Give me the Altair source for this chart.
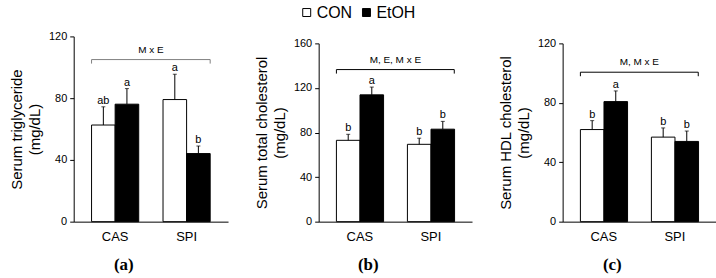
import altair as alt
import pandas as pd

# ---------------- data ----------------
diets = ["CAS", "CAS", "SPI", "SPI"]
groups = ["CON", "EtOH", "CON", "EtOH"]

tg_mean = [62.6, 76.1, 79.1, 44.1]
tg_err = [11.8, 10.1, 16.4, 4.9]
tc_mean = [73.0, 113.8, 69.4, 83.0]
tc_err = [5.4, 7.0, 5.5, 7.0]
hdl_mean = [62.0, 80.8, 56.9, 54.0]
hdl_err = [6.0, 7.2, 6.2, 7.0]

tg_letters = ["ab", "a", "a", "b"]
tc_letters = ["b", "a", "b", "b"]
hdl_letters = ["b", "a", "b", "b"]

y_titles = [["Serum triglyceride", "(mg/dL)"],
            ["Serum total cholesterol", "(mg/dL)"],
            ["Serum HDL cholesterol", "(mg/dL)"]]
y_max = [120, 160, 120]
y_ticks = [[0, 40, 80, 120], [0, 40, 80, 120, 160], [0, 40, 80, 120]]
bracket_y = [105.0, 136.5, 100.6]
bracket_drop = [2.6, 3.6, 2.7]
bracket_text = ["M x E", "M, E, M x E", "M, M x E"]
panel_labels = ["(a)", "(b)", "(c)"]

# ---------------- styling ----------------
FONT = "Liberation Sans"
H = 186
widths = [155, 154, 154]
tops = [0, 7, 7]
bracket_colors = ["#7f7f7f", "black", "black"]
P_IN = 0.34
P_OUT = 0.25

color = alt.Color(
    "group:N",
    scale=alt.Scale(domain=["CON", "EtOH"], range=["white", "black"]),
    legend=alt.Legend(
        orient="none", legendX=226, legendY=-32, direction="horizontal",
        title=None, symbolType="square", symbolSize=64,
        symbolStrokeColor="black", symbolStrokeWidth=1,
        labelFontSize=16, labelFont=FONT, labelColor="black",
        labelOffset=2, columnPadding=6,
    ),
)


def panel(i, mean, err, letters):
    df = pd.DataFrame({"diet": diets, "group": groups, "mean": mean,
                       "err": err, "letter": letters})
    xscale = alt.Scale(domain=["CAS", "SPI"], paddingInner=P_IN, paddingOuter=P_OUT)
    xaxis = alt.Axis(title=None, ticks=False, labelFontSize=13, labelPadding=9,
                     labelColor="black", domainColor="black", labelAngle=0,
                     labelFont=FONT)
    yscale = alt.Scale(domain=[0, y_max[i]], range=[H, tops[i]], nice=False, zero=True)
    yaxis = alt.Axis(values=y_ticks[i], title=y_titles[i], grid=False,
                     tickSize=4, tickColor="black", domainColor="black",
                     labelFontSize=11, labelPadding=3, labelColor="black",
                     labelFont=FONT, titleFont=FONT,
                     titleFontSize=15, titleFontWeight="normal", titleLineHeight=18,
                     titlePadding=6, titleColor="black")
    x = alt.X("diet:N", scale=xscale, axis=xaxis)
    xo = alt.XOffset("group:N", scale=alt.Scale(domain=["CON", "EtOH"]))

    def yenc(f):
        return alt.Y(f, scale=yscale, axis=yaxis)

    step = widths[i] / (2 - P_IN + 2 * P_OUT)
    half_gap = step * P_IN / 2

    base = alt.Chart(df).transform_calculate(top="datum.mean + datum.err")
    bars = base.mark_bar(stroke="black", strokeWidth=1).encode(
        x=x, xOffset=xo, y=yenc("mean:Q"), color=color)
    errs = base.mark_rule(color="black", strokeWidth=1).encode(
        x=x, xOffset=xo, y=yenc("mean:Q"), y2="top:Q")
    caps = base.mark_tick(color="black", size=4, thickness=1).encode(
        x=x, xOffset=xo, y=yenc("top:Q"))
    labs = base.mark_text(baseline="alphabetic", dy=-3, fontSize=11,
                          font=FONT, color="black").encode(
        x=x, xOffset=xo, y=yenc("top:Q"), text="letter:N")

    br = pd.DataFrame({"start": ["CAS"], "end": ["SPI"], "yv": [bracket_y[i]],
                       "lo": [bracket_y[i] - bracket_drop[i]],
                       "label": [bracket_text[i]]})
    bc = alt.Chart(br)
    bline = bc.mark_rule(color=bracket_colors[i], strokeWidth=1).encode(
        x=alt.X("start:N", bandPosition=0, scale=xscale, axis=xaxis),
        x2=alt.X2("end:N", bandPosition=1), y=yenc("yv:Q"))
    bl = bc.mark_rule(color=bracket_colors[i], strokeWidth=1).encode(
        x=alt.X("start:N", bandPosition=0, scale=xscale, axis=xaxis),
        y=yenc("yv:Q"), y2="lo:Q")
    brr = bc.mark_rule(color=bracket_colors[i], strokeWidth=1).encode(
        x=alt.X("end:N", bandPosition=1, scale=xscale, axis=xaxis),
        y=yenc("yv:Q"), y2="lo:Q")
    btxt = bc.mark_text(baseline="alphabetic", dy=-7, dx=half_gap, fontSize=10,
                        font=FONT, color="black").encode(
        x=alt.X("start:N", bandPosition=1, scale=xscale, axis=xaxis),
        y=yenc("yv:Q"), text="label:N")

    return alt.layer(bars, errs, caps, labs, bline, bl, brr, btxt).properties(
        width=widths[i], height=H,
        title=alt.TitleParams(panel_labels[i], orient="bottom", anchor="middle",
                              frame="bounds", font="Liberation Serif", fontSize=17,
                              fontWeight="bold", offset=14, dx=5, color="black"),
    )


pa = panel(0, tg_mean, tg_err, tg_letters)
pb = panel(1, tc_mean, tc_err, tc_letters)
pc = panel(2, hdl_mean, hdl_err, hdl_letters)

chart = alt.hconcat(pa, pb, pc, spacing=26).properties(
    padding={"left": 9, "top": 4, "right": 0, "bottom": 0},
    background="white",
).configure(font=FONT).configure_view(stroke=None)

chart.save("out.html", embed_options={"renderer": "svg", "actions": False})
